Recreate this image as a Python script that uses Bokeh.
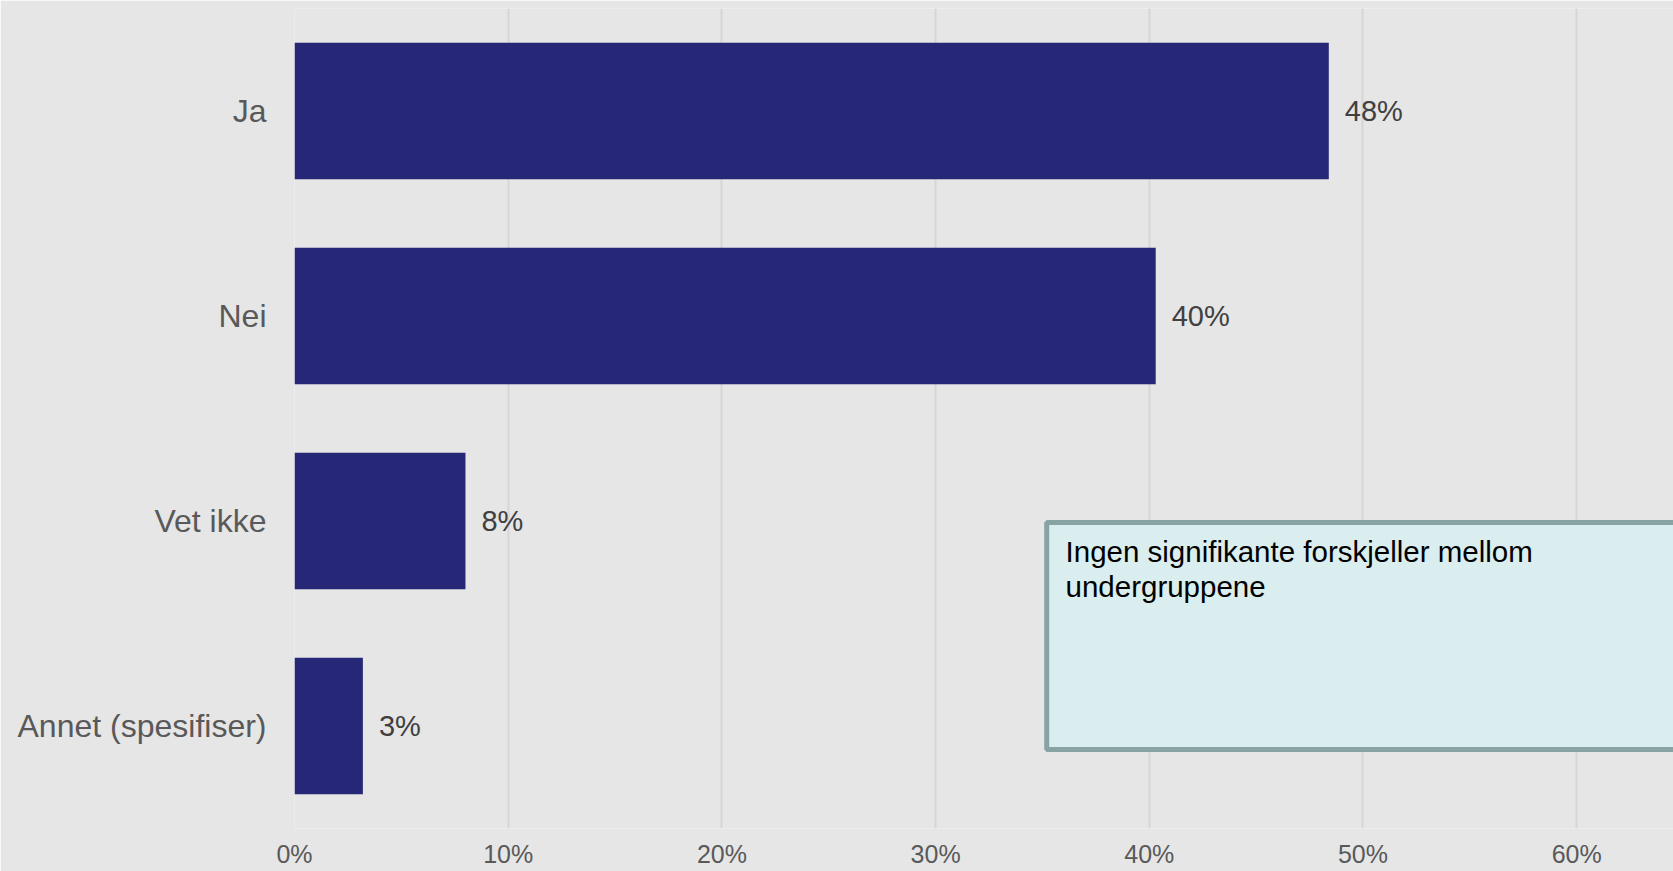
from bokeh.plotting import figure
from bokeh.models import Range1d, FixedTicker, NumeralTickFormatter, ColumnDataSource, BoxAnnotation, Label
from bokeh.embed import file_html
from bokeh.resources import INLINE
from bokeh.core.properties import value

categories = ["Ja", "Nei", "Vet ikke", "Annet (spesifiser)"]
shares = [0.484, 0.403, 0.080, 0.032]
x_ticks = [0.0, 0.1, 0.2, 0.3, 0.4, 0.5, 0.6]
note_lines = ["Ingen signifikante forskjeller mellom", "undergruppene"]

n = len(categories)
ypos = [n - 1 - i for i in range(n)]
labels = [f"{round(v * 100)}%" for v in shares]

src = ColumnDataSource(dict(y=ypos, v=shares, lab=labels))

BG = "#e6e6e6"
FONT = "Liberation Sans"

p = figure(width=1673, height=871, output_backend="svg", toolbar_location=None,
           x_range=Range1d(0, 0.6453), y_range=Range1d(-0.5, n - 0.5),
           min_border_left=294, min_border_right=0, min_border_top=8, min_border_bottom=43)
p.background_fill_color = BG
p.border_fill_color = BG
p.outline_line_color = None

p.hbar(y="y", left=0, right="v", height=0.665, source=src, fill_color="#262777", line_color=None)
p.text(x="v", y="y", text="lab", source=src, x_offset=16, text_baseline="middle", text_align="left",
       text_font=value(FONT), text_font_size="29px", text_color="#404040")

# note box
box = BoxAnnotation(left=0.352, right=0.75, top=0.993, bottom=-0.115,
                    fill_color="#daedef", fill_alpha=1.0, line_color="#87a3a4", line_alpha=1.0,
                    line_width=5, level="overlay")
p.add_layout(box)
line_y = [0.931, 0.759]
for t, yy in zip(note_lines, line_y):
    p.add_layout(Label(x=0.3608, y=yy, text=t, text_baseline="top", text_align="left",
                       text_font=FONT, text_font_size="29.5px", text_color="#000000", level="overlay"))

# axes
p.xaxis.ticker = FixedTicker(ticks=x_ticks)
p.xaxis.formatter = NumeralTickFormatter(format="0%")
p.xaxis.axis_line_color = None
p.xaxis.major_tick_line_color = None
p.xaxis.major_tick_out = 0
p.xaxis.major_tick_in = 0
p.xaxis.minor_tick_line_color = None
p.xaxis.major_label_text_font = FONT
p.xaxis.major_label_text_font_size = "25px"
p.xaxis.major_label_text_color = "#595959"
p.xaxis.major_label_standoff = 11

p.yaxis.ticker = FixedTicker(ticks=ypos)
p.yaxis.major_label_overrides = {yy: c for yy, c in zip(ypos, categories)}
p.yaxis.axis_line_color = None
p.yaxis.major_tick_line_color = None
p.yaxis.major_tick_out = 0
p.yaxis.major_tick_in = 0
p.yaxis.minor_tick_line_color = None
p.yaxis.major_label_text_font = FONT
p.yaxis.major_label_text_font_size = "32px"
p.yaxis.major_label_text_color = "#595959"
p.yaxis.major_label_standoff = 28

p.xgrid.ticker = FixedTicker(ticks=x_ticks)
p.xgrid.grid_line_color = "#d6d6d6"
p.xgrid.grid_line_width = 2
p.ygrid.grid_line_color = None

open("out.html", "w").write(file_html(p, INLINE))
